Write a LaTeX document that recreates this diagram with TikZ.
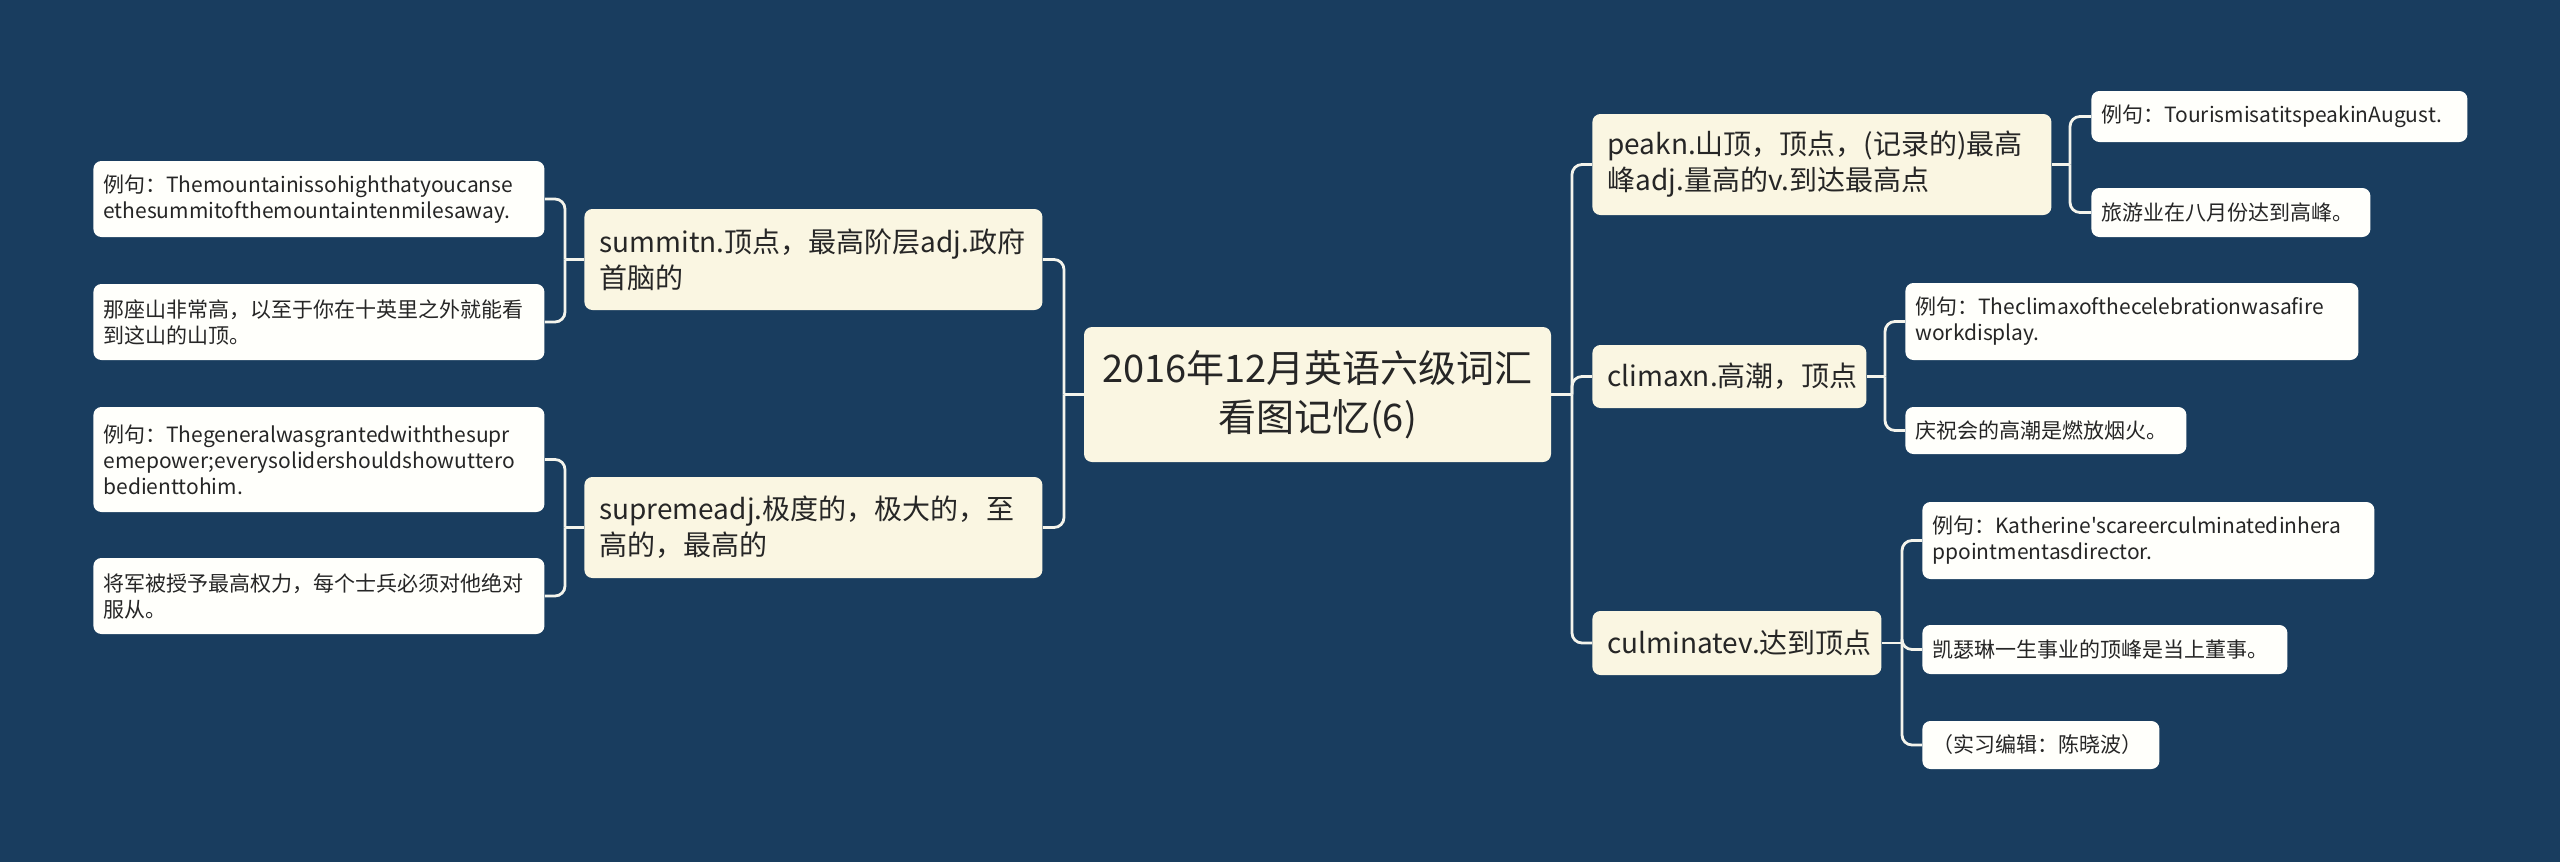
\documentclass[tikz,border=0pt]{standalone}
\usepackage{fontspec}
\newfontfamily\cjk{Noto Sans CJK SC}
\definecolor{bg}{RGB}{25,61,95}
\definecolor{mainfill}{RGB}{250,246,226}
\definecolor{leaffill}{RGB}{255,255,251}
\definecolor{txt}{RGB}{38,38,38}
\definecolor{linec}{RGB}{244,244,236}
\begin{document}
\begin{tikzpicture}[x=0.5pt,y=-0.5pt,
  centralbox/.style={fill=mainfill, rounded corners=4pt, text=txt, font=\cjk\fontsize{19}{24.5}\selectfont, align=center, minimum width=233.5pt, minimum height=67.5pt, inner sep=0pt},
  topicbox/.style={fill=mainfill, rounded corners=4pt, text=txt, font=\cjk\fontsize{14}{18}\selectfont, align=left, anchor=west, inner xsep=7.5pt, inner ysep=0pt},
  leafbox/.style={fill=leaffill, rounded corners=4pt, text=txt, font=\cjk\fontsize{10.5}{13}\selectfont, align=left, anchor=west, inner xsep=5pt, inner ysep=0pt},
  conn/.style={draw=linec, line width=1.4pt, rounded corners=5pt}
]
\fill[bg] (0,0) rectangle (2560,862);
\useasboundingbox (0,0) rectangle (2560,862);

% central
\node[centralbox] (c) at (1317.5,394.5) {2016年12月英语六级词汇\\看图记忆(6)};

% left topics
\node[topicbox, text width=214pt, minimum height=50.5pt] (summit) at (584,259.5) {summitn.顶点，最高阶层adj.政府\\首脑的};
\node[topicbox, text width=214pt, minimum height=50.5pt] (supreme) at (584,527.5) {supremeadj.极度的，极大的，至\\高的，最高的};

% left leaves
\node[leafbox, text width=215.5pt, minimum height=38pt] (sumex) at (93,199) {例句：Themountainissohighthatyoucanse\\ethesummitofthemountaintenmilesaway.};
\node[leafbox, text width=215.5pt, minimum height=38pt] (sumtr) at (93,322) {那座山非常高，以至于你在十英里之外就能看\\到这山的山顶。};
\node[leafbox, text width=215.5pt, minimum height=52.5pt] (supex) at (93,459.5) {例句：Thegeneralwasgrantedwiththesupr\\emepower;everysolidershouldshowuttero\\bedienttohim.};
\node[leafbox, text width=215.5pt, minimum height=38pt] (suptr) at (93,596) {将军被授予最高权力，每个士兵必须对他绝对\\服从。};

% right topics
\node[topicbox, text width=214.5pt, minimum height=50.5pt] (peak) at (1592,164.5) {peakn.山顶，顶点，(记录的)最高\\峰adj.量高的v.到达最高点};
\node[topicbox, text width=122pt, minimum height=31.5pt] (climax) at (1592,376.5) {climaxn.高潮，顶点};
\node[topicbox, text width=129.5pt, minimum height=32pt] (culm) at (1592,643) {culminatev.达到顶点};

% right leaves
\node[leafbox, text width=178pt, minimum height=25.5pt] (peakex) at (2091,116.5) {例句：TourismisatitspeakinAugust.};
\node[leafbox, text width=129.5pt, minimum height=24.5pt] (peaktr) at (2091,212.5) {旅游业在八月份达到高峰。};
\node[leafbox, text width=216.5pt, minimum height=38.5pt] (climex) at (1905,321.5) {例句：Theclimaxofthecelebrationwasafire\\workdisplay.};
\node[leafbox, text width=130.5pt, minimum height=23.5pt] (climtr) at (1905,430.5) {庆祝会的高潮是燃放烟火。};
\node[leafbox, text width=216pt, minimum height=38.5pt] (culmex) at (1922,540.5) {例句：Katherine'scareerculminatedinhera\\ppointmentasdirector.};
\node[leafbox, text width=172.5pt, minimum height=24.5pt] (culmtr) at (1922,649.5) {凯瑟琳一生事业的顶峰是当上董事。};
\node[leafbox, text width=108.5pt, minimum height=24pt] (editor) at (1922,745) {（实习编辑：陈晓波）};

% junctions
\coordinate (jL) at (1064,394.5);
\coordinate (jR) at (1572,394.5);
\coordinate (jSum) at (565,259.5);
\coordinate (jSup) at (565,527.5);
\coordinate (jPeak) at (2070,164.5);
\coordinate (jClim) at (1885,376.5);
\coordinate (jCulm) at (1902,643);

% connectors
\draw[conn] (c.west) -- (jL);
\draw[conn] (jL) |- (summit.east);
\draw[conn] (jL) |- (supreme.east);
\draw[conn] (summit.west) -- (jSum);
\draw[conn] (jSum) |- (sumex.east);
\draw[conn] (jSum) |- (sumtr.east);
\draw[conn] (supreme.west) -- (jSup);
\draw[conn] (jSup) |- (supex.east);
\draw[conn] (jSup) |- (suptr.east);

\draw[conn] (c.east) -- (jR);
\draw[conn] (jR) |- (peak.west);
\draw[conn] (jR) |- (climax.west);
\draw[conn] (jR) |- (culm.west);
\draw[conn] (peak.east) -- (jPeak);
\draw[conn] (jPeak) |- (peakex.west);
\draw[conn] (jPeak) |- (peaktr.west);
\draw[conn] (climax.east) -- (jClim);
\draw[conn] (jClim) |- (climex.west);
\draw[conn] (jClim) |- (climtr.west);
\draw[conn] (culm.east) -- (jCulm);
\draw[conn] (jCulm) |- (culmex.west);
\draw[conn] (jCulm) |- (culmtr.west);
\draw[conn] (jCulm) |- (editor.west);
\end{tikzpicture}
\end{document}
